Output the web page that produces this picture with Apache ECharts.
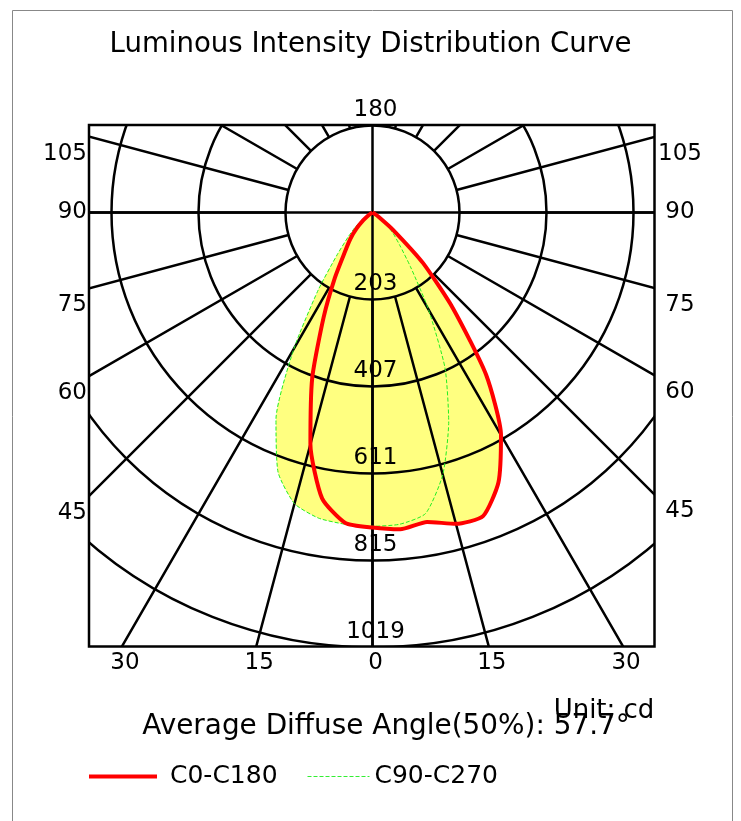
<!DOCTYPE html>
<html><head><meta charset="utf-8">
<script src="https://cdn.jsdelivr.net/npm/echarts@6/dist/echarts.min.js"></script>
<style>html,body{margin:0;padding:0;background:#fff}#c{width:741px;height:821px}</style>
</head><body><div id="c"></div>
<script>
// ---- data (intensity in cd, gamma angle in degrees from nadir) ----
const sampleAngles = [0, 5, 10, 15, 20, 25, 30, 35, 40, 45, 50, 55, 60, 65, 70, 75, 80, 85, 90];
const c0Values   = [738, 745, 736, 755, 757, 698, 602, 464, 294, 167, 62, 18, 5, 0, 0, 0, 0, 0, 0];
const c180Values = [738, 730, 680, 562, 413, 271, 176, 113, 81, 52, 28, 13, 5, 0, 0, 0, 0, 0, 0];
const c90Values  = [735, 733, 716, 636, 522, 402, 262, 155, 98, 67, 40, 20, 8, 0, 0, 0, 0, 0, 0];
const c270Values = [735, 733, 727, 706, 647, 535, 368, 222, 128, 80, 52, 30, 15, 5, 0, 0, 0, 0, 0];
const radiusMax = 1019;
const radiusStep = 203.8;
const radiusTickLabels = ['203', '407', '611', '815', '1019'];
const sideAngleLabels = [105, 90, 75, 60, 45];
const bottomAngleLabels = [30, 15, 0, 15, 30];
const bottomAngleSides = [-1, -1, 0, 1, 1];
const topAngleLabel = '180';
const titleText = 'Luminous Intensity Distribution Curve';
const diffuseText = 'Average Diffuse Angle(50%): 57.7°';
const unitText = 'Unit: cd';
const seriesNames = ['C0-C180', 'C90-C270'];

// ---- layout ----
const FONT = 'DejaVu Sans';
const CENTER = [372.5, 212.5];
const R_PX = 435;
const PLOT = { left: 89, top: 125, right: 654.5, bottom: 646.5 };
const GRID_W = 2.5;

function curve(rightVals, leftVals) {
  const pts = [];
  for (let i = sampleAngles.length - 1; i >= 0; i--) pts.push([rightVals[i], 360 - sampleAngles[i]]);
  for (let i = 1; i < sampleAngles.length; i++) pts.push([leftVals[i], sampleAngles[i]]);
  return pts;
}

const chart = echarts.init(document.getElementById('c'), null, { renderer: 'canvas' });

const hiddenAngle = { type: 'value', min: 0, max: 360, interval: 15, startAngle: 270, clockwise: true,
  axisLine: { show: false }, axisTick: { show: false }, axisLabel: { show: false } };
const gridLine = { show: true, lineStyle: { color: '#000', width: GRID_W } };

chart.setOption({
  animation: false,
  backgroundColor: '#fff',
  title: { text: titleText, left: 'center', top: 26, z: 20,
    textStyle: { fontFamily: FONT, fontSize: 27.6, fontWeight: 'normal', color: '#000' } },
  legend: [
    { data: [seriesNames[0]], left: 87, top: 764, padding: 0, itemWidth: 68, itemHeight: 14, z: 20,
      lineStyle: { width: 4, color: '#ff0000' }, itemStyle: { opacity: 0 },
      textStyle: { fontFamily: FONT, fontSize: 25, color: '#000', padding: [0, 0, 0, 8] } },
    { data: [seriesNames[1]], left: 307, top: 764, padding: 0, itemWidth: 62, itemHeight: 14, z: 20,
      lineStyle: { width: 1, color: '#33ee33', type: [4, 2] }, itemStyle: { opacity: 0 },
      textStyle: { fontFamily: FONT, fontSize: 25, color: '#000' } }
  ],
  polar: [
    { center: CENTER, radius: R_PX },
    { center: CENTER, radius: [R_PX * radiusStep / radiusMax, 620] },
    { center: CENTER, radius: 620 }
  ],
  angleAxis: [
    Object.assign({ polarIndex: 0, splitLine: { show: false }, z: 3 }, hiddenAngle),
    Object.assign({ polarIndex: 1, splitLine: gridLine, z: 3 }, hiddenAngle),
    Object.assign({}, hiddenAngle, { polarIndex: 2, interval: 90, splitLine: gridLine, z: 3 })
  ],
  radiusAxis: [
    { polarIndex: 0, type: 'value', min: 0, max: radiusMax, interval: radiusStep, z: 3,
      axisLine: { show: false }, axisTick: { show: false }, axisLabel: { show: false },
      splitLine: gridLine },
    { polarIndex: 1, type: 'value', min: 0, max: 1, show: false },
    { polarIndex: 2, type: 'value', min: 0, max: 1, show: false }
  ],
  series: [
    { type: 'line', name: 'fill-c90', coordinateSystem: 'polar', polarIndex: 0, data: curve(c90Values, c270Values),
      smooth: 0.2, symbol: 'none', silent: true, lineStyle: { width: 0 }, areaStyle: { color: '#ffff80', opacity: 1 }, z: 1 },
    { type: 'line', name: 'fill-c0', coordinateSystem: 'polar', polarIndex: 0, data: curve(c0Values, c180Values),
      smooth: 0.2, symbol: 'none', silent: true, lineStyle: { width: 0 }, areaStyle: { color: '#ffff80', opacity: 1 }, z: 1 },
    { type: 'line', name: seriesNames[1], coordinateSystem: 'polar', polarIndex: 0, data: curve(c90Values, c270Values),
      smooth: 0.2, symbol: 'none', showSymbol: false, itemStyle: { color: '#33ee33' },
      lineStyle: { color: '#22ee22', width: 1, type: [4, 2] }, z: 5 },
    { type: 'line', name: seriesNames[0], coordinateSystem: 'polar', polarIndex: 0, data: curve(c0Values, c180Values),
      smooth: 0.2, symbol: 'none', showSymbol: false, itemStyle: { color: '#ff0000' },
      lineStyle: { color: '#ff0000', width: 4 }, z: 6 }
  ]
});

function toPx(r, a) {
  try {
    const p = chart.convertToPixel({ polarIndex: 0 }, [r, a]);
    if (p && isFinite(p[0]) && isFinite(p[1])) return p;
  } catch (e) {}
  const th = (270 - a) * Math.PI / 180;
  return [CENTER[0] + R_PX * r / radiusMax * Math.cos(th), CENTER[1] - R_PX * r / radiusMax * Math.sin(th)];
}
function txt(text, x, y, size, align) {
  return { type: 'text', x: x, y: y, z: 12,
    style: { text: text, fontFamily: FONT, fontSize: size, fill: '#000', align: align || 'center', verticalAlign: 'middle' } };
}

const c = toPx(0, 0);
const g = [];
// masks outside the plot frame
g.push({ type: 'rect', z: 10, shape: { x: 0, y: 0, width: 741, height: PLOT.top }, style: { fill: '#fff' } });
g.push({ type: 'rect', z: 10, shape: { x: 0, y: PLOT.bottom, width: 741, height: 821 - PLOT.bottom }, style: { fill: '#fff' } });
g.push({ type: 'rect', z: 10, shape: { x: 0, y: 0, width: PLOT.left, height: 821 }, style: { fill: '#fff' } });
g.push({ type: 'rect', z: 10, shape: { x: PLOT.right, y: 0, width: 741 - PLOT.right, height: 821 }, style: { fill: '#fff' } });
g.push({ type: 'rect', z: 11, shape: { x: PLOT.left, y: PLOT.top, width: PLOT.right - PLOT.left, height: PLOT.bottom - PLOT.top },
  style: { fill: 'none', stroke: '#000', lineWidth: 2.5 } });
g.push({ type: 'rect', z: 11, shape: { x: 12.5, y: 10.5, width: 720, height: 840 }, style: { fill: 'none', stroke: '#888', lineWidth: 1 } });

// radius labels
radiusTickLabels.forEach(function (lab, i) {
  const p = toPx(radiusStep * (i + 1), 0);
  g.push(txt(lab, p[0] + 3, p[1] - 15, 23));
});
// side angle labels
sideAngleLabels.forEach(function (a) {
  const off = a === 90 ? 0 : 17;
  const pl = toPx(radiusMax, a);
  const tl = (PLOT.left - c[0]) / (pl[0] - c[0]);
  g.push(txt(String(a), 87, c[1] + tl * (pl[1] - c[1]) + off, 23, 'right'));
  const pr = toPx(radiusMax, 360 - a);
  const tr = (PLOT.right - c[0]) / (pr[0] - c[0]);
  g.push(txt(String(a), 680, c[1] + tr * (pr[1] - c[1]) + off, 23, 'center'));
});
// bottom angle labels
bottomAngleLabels.forEach(function (a, i) {
  const av = bottomAngleSides[i] > 0 ? 360 - a : a;
  const p = toPx(radiusMax, av);
  const t = (PLOT.bottom - c[1]) / (p[1] - c[1]);
  g.push(txt(String(a), c[0] + t * (p[0] - c[0]) + 3, 663, 23));
});
// top label
g.push(txt(topAngleLabel, c[0] + 3, 110, 23));
g.push(txt(diffuseText, 386, 727, 27.9));
g.push(txt(unitText, 604, 711, 26));

chart.setOption({ graphic: { elements: g } });
</script></body></html>
